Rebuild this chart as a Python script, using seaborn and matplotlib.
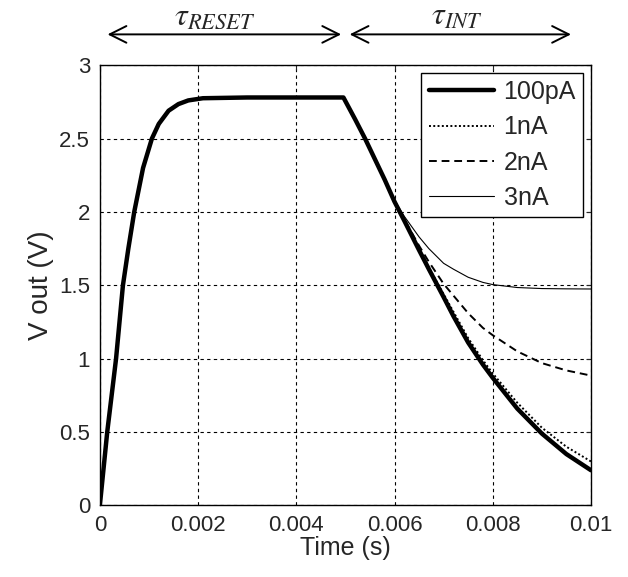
import seaborn as sns
import matplotlib.pyplot as plt

# reset phase (shared by all currents)
t_reset = [0, 0.00015, 0.00033, 0.00047, 0.00058, 0.0007, 0.00088, 0.00106,
           0.0012, 0.0014, 0.0016, 0.0018, 0.0021, 0.003, 0.00496]
v_reset = [0, 0.5, 1.0, 1.5, 1.75, 2.0, 2.3, 2.5,
           2.6, 2.69, 2.735, 2.76, 2.775, 2.78, 2.78]

# integration phase
t_int = [0.0052, 0.0054, 0.0056, 0.0058, 0.006, 0.0062, 0.0065, 0.0067, 0.007,
         0.0072, 0.0075, 0.0078, 0.008, 0.0085, 0.009, 0.0095, 0.01]
v_100pA = [2.63, 2.5, 2.36, 2.22, 2.07, 1.94, 1.74, 1.61, 1.42,
           1.29, 1.11, 0.96, 0.87, 0.66, 0.49, 0.35, 0.24]
v_1nA = [2.63, 2.5, 2.36, 2.22, 2.07, 1.94, 1.75, 1.62, 1.44,
         1.32, 1.14, 0.99, 0.90, 0.70, 0.53, 0.40, 0.30]
v_2nA = [2.63, 2.5, 2.36, 2.22, 2.075, 1.95, 1.77, 1.66, 1.51,
         1.43, 1.31, 1.21, 1.16, 1.05, 0.97, 0.92, 0.885]
v_3nA = [2.63, 2.5, 2.36, 2.22, 2.08, 1.97, 1.83, 1.75, 1.65,
         1.61, 1.555, 1.52, 1.505, 1.485, 1.478, 1.476, 1.475]

labels = ["100pA", "1nA", "2nA", "3nA"]
x_ticks = [0, 0.002, 0.004, 0.006, 0.008, 0.01]
x_ticklabels = ["0", "0.002", "0.004", "0.006", "0.008", "0.01"]
y_ticks = [0, 0.5, 1, 1.5, 2, 2.5, 3]
y_ticklabels = ["0", "0.5", "1", "1.5", "2", "2.5", "3"]

sns.set_style("white")
plt.rcParams["font.family"] = ["Liberation Sans", "DejaVu Sans"]
plt.rcParams["mathtext.fontset"] = "stix"

fig = plt.figure(figsize=(6.28, 5.77), dpi=100)
ax = fig.add_axes([0.159, 0.124, 0.782, 0.763])

styles = [dict(lw=3.2, ls="-"), dict(lw=1.4, ls=(0, (1, 1.2))),
          dict(lw=1.4, ls=(0, (4, 2.5))), dict(lw=0.8, ls="-")]
series = [v_100pA, v_1nA, v_2nA, v_3nA]

# draw thin ones first so the thick line sits on top
for i in [3, 2, 1, 0]:
    sns.lineplot(x=t_reset + t_int, y=v_reset + series[i], ax=ax, color="black",
                 label=labels[i], sort=False, estimator=None, zorder=3 + (3 - i),
                 **styles[i])

ax.set_xlim(0, 0.01)
ax.set_ylim(0, 3)
ax.set_xticks(x_ticks)
ax.set_xticklabels(x_ticklabels)
ax.set_yticks(y_ticks)
ax.set_yticklabels(y_ticklabels)
ax.tick_params(labelsize=16, pad=7, direction="in", top=True, right=True)
ax.grid(True, color="black", ls=(0, (3, 3)), lw=0.8)
for s in ax.spines.values():
    s.set_color("black")
    s.set_linewidth(1.0)
ax.set_xlabel("Time (s)", fontsize=18, labelpad=0)
ax.set_ylabel("V out (V)", fontsize=20, labelpad=4)

handles, lbls = ax.get_legend_handles_labels()
order = [lbls.index(l) for l in labels]
leg = ax.legend([handles[k] for k in order], labels, loc="upper right",
                fontsize=18, frameon=True, fancybox=False, edgecolor="black",
                framealpha=1, borderaxespad=0.3, handlelength=2.6,
                handletextpad=0.4, labelspacing=0.45, borderpad=0.3)
leg.get_frame().set_linewidth(1.0)

# phase arrows above the axes
arrow = dict(arrowstyle="<->", lw=1.4, color="black", mutation_scale=30)
ax.annotate("", xy=(0.0001, 3.21), xytext=(0.00497, 3.21), arrowprops=arrow,
            annotation_clip=False)
ax.annotate("", xy=(0.00503, 3.21), xytext=(0.00965, 3.21), arrowprops=arrow,
            annotation_clip=False)
ax.text(0.00235, 3.225, r"$\tau_{RESET}$", fontsize=23, ha="center", va="bottom")
ax.text(0.00727, 3.225, r"$\tau_{INT}$", fontsize=23, ha="center", va="bottom")

fig.savefig("out.png", dpi=100)
